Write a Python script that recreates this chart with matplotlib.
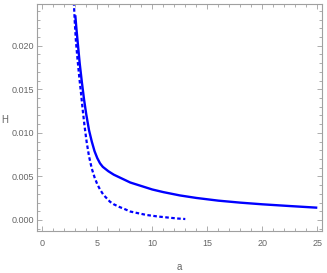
import matplotlib
matplotlib.use("Agg")
import matplotlib.pyplot as plt
from matplotlib.ticker import MultipleLocator, FormatStrFormatter

# Solid curve
a_solid = [3.0, 3.1, 3.25, 3.4, 3.6, 3.8, 4.0, 4.25, 4.5, 4.75, 5.0, 5.25, 5.5, 6.0, 6.5,
           7.0, 7.5, 8.0, 9.0, 10.0, 11.0, 12.5, 14.0, 16.0, 18.0, 20.0, 22.5, 25.0]
H_solid = [0.0235, 0.0220, 0.0200, 0.0180, 0.0158, 0.0138, 0.0121, 0.0103, 0.0090, 0.0079,
           0.0071, 0.0065, 0.0061, 0.0056, 0.0052, 0.0049, 0.0046, 0.0043, 0.0039, 0.0035,
           0.0032, 0.00282, 0.00253, 0.00222, 0.00199, 0.00180, 0.00160, 0.00141]

# Dashed curve
a_dash = [2.87, 2.95, 3.06, 3.2, 3.37, 3.5, 3.67, 3.85, 4.04, 4.25, 4.5, 4.75, 5.0, 5.25,
          5.55, 6.15, 6.5, 7.0, 7.4, 8.0, 8.7, 9.5, 10.5, 11.5, 12.3, 13.0]
H_dash = [0.0250, 0.0228, 0.0205, 0.0185, 0.0163, 0.0148, 0.0127, 0.0107, 0.0089, 0.0073,
          0.0059, 0.0049, 0.0041, 0.0035, 0.0029, 0.0021, 0.0018, 0.0015, 0.0013, 0.00097,
          0.00078, 0.00057, 0.00040, 0.00027, 0.00017, 0.00011]

xticks = [0, 5, 10, 15, 20, 25]
yticks = [0.000, 0.005, 0.010, 0.015, 0.020]

plt.rcParams['font.family'] = ['Liberation Sans', 'DejaVu Sans']

fig = plt.figure(figsize=(3.27, 2.73), dpi=100)
ax = fig.add_axes([37/327, 1-230.7/273, (321.7-37)/327, (230.7-4)/273])

ax.plot(a_solid, H_solid, color='#0000ff', lw=1.7, solid_capstyle='butt',
        solid_joinstyle='round')
ax.plot(a_dash, H_dash, color='#0000ff', lw=1.6, linestyle=(0, (1.6, 1.1)))

ax.set_xlim(-0.48, 25.4)
ax.set_ylim(-0.00123, 0.02479)
ax.set_xticks(xticks)
ax.set_yticks(yticks)
ax.yaxis.set_major_formatter(FormatStrFormatter('%.3f'))
ax.xaxis.set_minor_locator(MultipleLocator(1))
ax.yaxis.set_minor_locator(MultipleLocator(0.001))

frame_col = '#a0a0a0'
for s in ax.spines.values():
    s.set_color(frame_col)
    s.set_linewidth(0.8)
ax.tick_params(which='both', direction='in', top=True, right=True, color=frame_col,
               width=0.6, labelcolor='#666666', labelsize=6.5)
ax.tick_params(which='major', length=3.5)
ax.tick_params(which='minor', length=2)
ax.tick_params(axis='x', which='major', pad=6)
ax.tick_params(axis='y', which='major', pad=2)

ax.set_xlabel('a', fontsize=7, color='#666666')
ax.set_ylabel('H', fontsize=7, color='#666666', rotation=0, ha='center', va='center')
ax.xaxis.set_label_coords(0.499, -0.138)
ax.yaxis.set_label_coords(-0.112, 0.488)

fig.savefig('out.png', dpi=100)
